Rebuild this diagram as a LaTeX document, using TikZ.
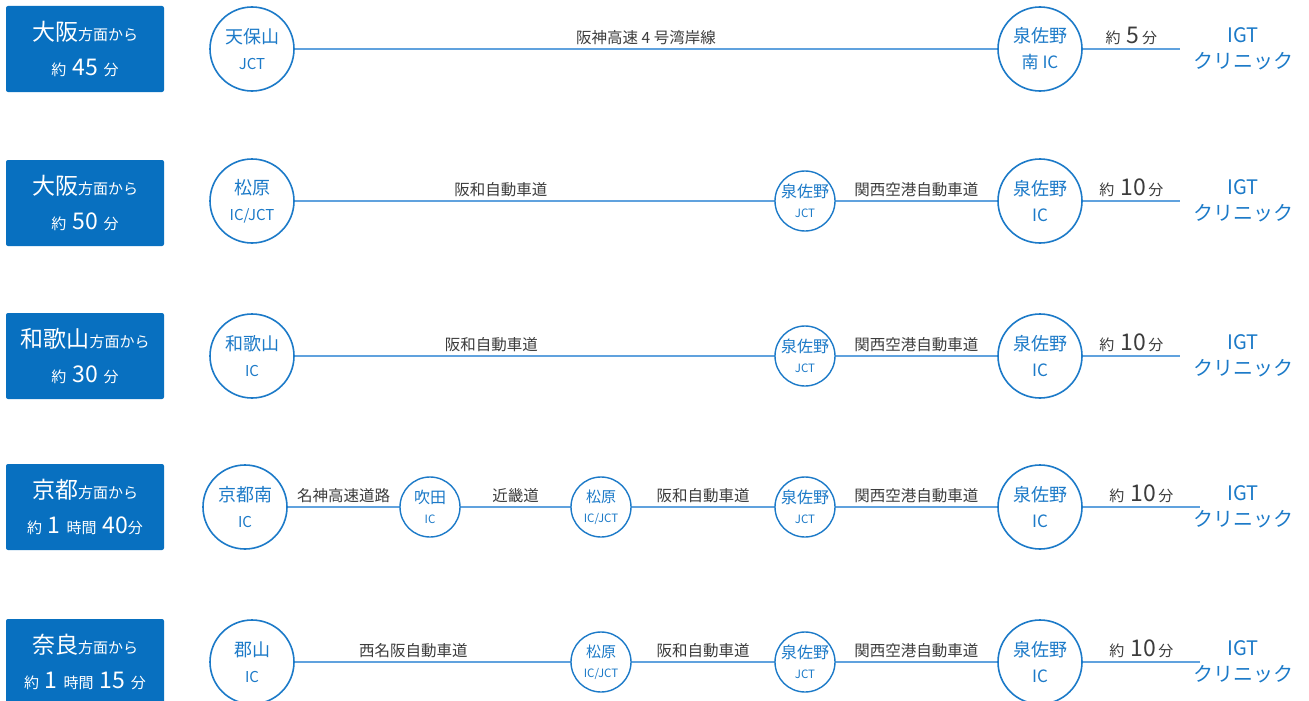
\documentclass[tikz,border=0pt]{standalone}
\usepackage{fontspec}
\setmainfont{Noto Sans CJK JP}
\usepackage{tikz}

\definecolor{boxblue}{RGB}{8,112,192}
\definecolor{ringblue}{RGB}{28,122,200}
\definecolor{roadblue}{RGB}{96,162,222}
\definecolor{labelgrey}{RGB}{60,60,60}

\newcommand{\bigtxt}[1]{{\fontsize{23}{26}\selectfont #1}}
\newcommand{\smtxt}[1]{{\fontsize{15}{16}\selectfont #1}}
\newcommand{\captxt}[1]{{\fontsize{15}{16}\selectfont #1}}
\newcommand{\jcttxt}[1]{{\fontsize{11.5}{13}\selectfont #1}}

\tikzset{
  timebox/.style={fill=boxblue, rounded corners=2pt, minimum width=158pt, minimum height=86pt, text=white, align=center, inner sep=0pt, font=\fontsize{15}{35}\selectfont},
  bigstop/.style={circle, draw=ringblue, line width=1.6pt, fill=white, minimum size=84pt, inner sep=0pt, text=ringblue, align=center, font=\fontsize{18}{26}\selectfont},
  jct/.style={circle, draw=ringblue, line width=1.4pt, fill=white, minimum size=60pt, inner sep=0pt, text=ringblue, align=center, font=\fontsize{16}{20}\selectfont},
  road/.style={draw=roadblue, line width=1.3pt},
  roadlabel/.style={above, text=labelgrey, font=\fontsize{15.5}{17}\selectfont, inner sep=4pt},
  dest/.style={text=ringblue, align=center, font=\fontsize{20}{26}\selectfont}
}

\begin{document}
\begin{tikzpicture}[x=1pt, y=-1pt]
\useasboundingbox (0,0) rectangle (1309,701);

% left boxes
\node[timebox] (t1) at (85,49) {\bigtxt{大阪}\smtxt{方面から}\\\smtxt{約}\, \bigtxt{45}\, \smtxt{分}};
\node[timebox] (t2) at (85,203) {\bigtxt{大阪}\smtxt{方面から}\\\smtxt{約}\, \bigtxt{50}\, \smtxt{分}};
\node[timebox] (t3) at (85,356) {\bigtxt{和歌山}\smtxt{方面から}\\\smtxt{約}\, \bigtxt{30}\, \smtxt{分}};
\node[timebox] (t4) at (85,507) {\bigtxt{京都}\smtxt{方面から}\\\smtxt{約}\, \bigtxt{1}\, \smtxt{時間}\, \bigtxt{40}\smtxt{分}};
\node[timebox] (t5) at (85,662) {\bigtxt{奈良}\smtxt{方面から}\\\smtxt{約}\, \bigtxt{1}\, \smtxt{時間}\, \bigtxt{15}\, \smtxt{分}};

% row 1
\coordinate (e1) at (1180,49);
\draw[road] (252,49) -- (e1);
\node[bigstop] (tempozan) at (252,49) {天保山\\\captxt{JCT}};
\node[bigstop] (minami) at (1040,49) {泉佐野\\{\fontsize{17}{18}\selectfont 南 IC}};
\path (tempozan) -- (minami) node[roadlabel, midway] {阪神高速 4 号湾岸線};
\path (minami) -- (e1) node[roadlabel, midway] {\smtxt{約}\, \bigtxt{5}\,\smtxt{分}};
\node[dest] (igt1) at (1243,49) {IGT\\クリニック};

% row 2
\coordinate (e2) at (1180,201);
\draw[road] (252,201) -- (e2);
\node[bigstop] (matsubara2) at (252,201) {松原\\\captxt{IC/JCT}};
\node[jct] (sjct2) at (805,201) {泉佐野\\\jcttxt{JCT}};
\node[bigstop] (sic2) at (1040,201) {泉佐野\\{\fontsize{17}{18}\selectfont IC}};
\path (matsubara2) -- (sjct2) node[roadlabel, pos=0.43] {阪和自動車道};
\path (sjct2) -- (sic2) node[roadlabel, midway] {関西空港自動車道};
\path (sic2) -- (e2) node[roadlabel, midway] {\smtxt{約}\, \bigtxt{10}\,\smtxt{分}};
\node[dest] (igt2) at (1243,201) {IGT\\クリニック};

% row 3
\coordinate (e3) at (1180,356);
\draw[road] (252,356) -- (e3);
\node[bigstop] (wakayama) at (252,356) {和歌山\\\captxt{IC}};
\node[jct] (sjct3) at (805,356) {泉佐野\\\jcttxt{JCT}};
\node[bigstop] (sic3) at (1040,356) {泉佐野\\{\fontsize{17}{18}\selectfont IC}};
\path (wakayama) -- (sjct3) node[roadlabel, pos=0.41] {阪和自動車道};
\path (sjct3) -- (sic3) node[roadlabel, midway] {関西空港自動車道};
\path (sic3) -- (e3) node[roadlabel, midway] {\smtxt{約}\, \bigtxt{10}\,\smtxt{分}};
\node[dest] (igt3) at (1243,356) {IGT\\クリニック};

% row 4
\coordinate (e4) at (1200,507);
\draw[road] (245,507) -- (e4);
\node[bigstop] (kyoto) at (245,507) {京都南\\\captxt{IC}};
\node[jct] (suita) at (430,507) {吹田\\\jcttxt{IC}};
\node[jct] (matsubara4) at (601,507) {{\fontsize{15}{18}\selectfont 松原}\\\jcttxt{IC/JCT}};
\node[jct] (sjct4) at (805,507) {泉佐野\\\jcttxt{JCT}};
\node[bigstop] (sic4) at (1040,507) {泉佐野\\{\fontsize{17}{18}\selectfont IC}};
\path (kyoto) -- (suita) node[roadlabel, midway] {名神高速道路};
\path (suita) -- (matsubara4) node[roadlabel, midway] {近畿道};
\path (matsubara4) -- (sjct4) node[roadlabel, midway] {阪和自動車道};
\path (sjct4) -- (sic4) node[roadlabel, midway] {関西空港自動車道};
\path (sic4) -- (e4) node[roadlabel, midway] {\smtxt{約}\, \bigtxt{10}\,\smtxt{分}};
\node[dest] (igt4) at (1243,507) {IGT\\クリニック};

% row 5
\coordinate (e5) at (1200,662);
\draw[road] (252,662) -- (e5);
\node[bigstop] (koriyama) at (252,662) {郡山\\\captxt{IC}};
\node[jct] (matsubara5) at (601,662) {{\fontsize{15}{18}\selectfont 松原}\\\jcttxt{IC/JCT}};
\node[jct] (sjct5) at (805,662) {泉佐野\\\jcttxt{JCT}};
\node[bigstop] (sic5) at (1040,662) {泉佐野\\{\fontsize{17}{18}\selectfont IC}};
\path (koriyama) -- (matsubara5) node[roadlabel, pos=0.43] {西名阪自動車道};
\path (matsubara5) -- (sjct5) node[roadlabel, midway] {阪和自動車道};
\path (sjct5) -- (sic5) node[roadlabel, midway] {関西空港自動車道};
\path (sic5) -- (e5) node[roadlabel, midway] {\smtxt{約}\, \bigtxt{10}\,\smtxt{分}};
\node[dest] (igt5) at (1243,662) {IGT\\クリニック};
\end{tikzpicture}
\end{document}
